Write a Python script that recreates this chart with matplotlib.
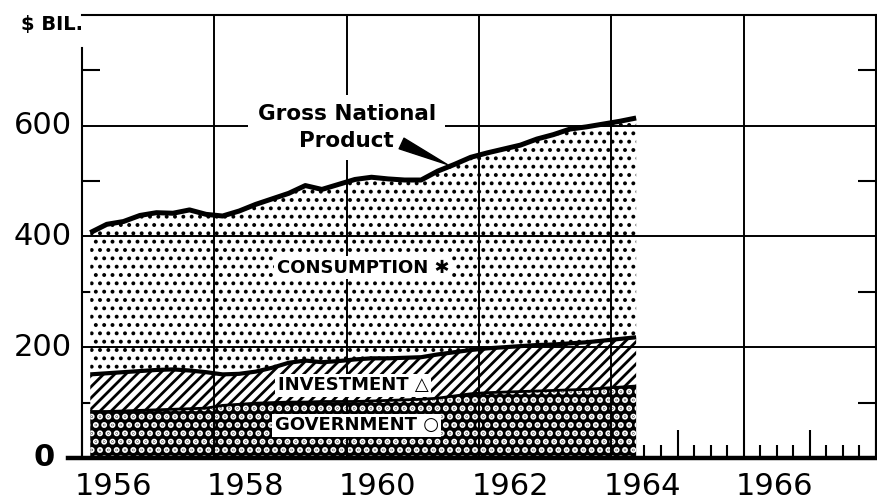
import matplotlib
matplotlib.use("Agg")
import matplotlib.pyplot as plt
import numpy as np

# quarterly values, $ billions, 1956 Q1 .. 1964 Q2
quarters = np.arange(1956.125, 1964.5, 0.25)
gnp = [407, 422, 427, 438, 443, 442, 448, 440, 437, 446, 458, 468,
       478, 492, 485, 494, 503, 507, 504, 502, 502, 518, 530, 543,
       551, 558, 565, 576, 584, 594, 598, 603, 608, 614]
gov_plus_inv = [151, 153, 155, 157, 159, 160, 158, 155, 151, 152, 156, 163,
                172, 176, 173, 175, 178, 180, 180, 181, 182, 187, 191, 195,
                198, 200, 202, 204, 205, 207, 209, 212, 215, 218]
government = [84, 84, 85, 86, 87, 88, 89, 90, 95, 97, 99, 100,
              101, 101, 102, 102, 102, 103, 104, 105, 106, 108, 112, 116,
              118, 119, 120, 121, 122, 123, 124, 126, 128, 130]

year_labels = [1956, 1958, 1960, 1962, 1964, 1966]
y_labels = [0, 200, 400, 600]
y_grid = [200, 400, 600]
x_grid = [1958, 1960, 1962, 1964, 1966]
y_minor = [100, 300, 500, 700]

plt.rcParams['font.family'] = ['DejaVu Sans']


def hatch_lw(coll, lw):
    # per-artist hatch width where matplotlib supports it
    if hasattr(coll, 'set_hatch_linewidth'):
        coll.set_hatch_linewidth(lw)


fig = plt.figure(figsize=(8.78, 5.03), dpi=100)
ax = fig.add_axes([82 / 878, 45 / 503, 794 / 878, 443 / 503])
ax.set_xlim(1956, 1968)
ax.set_ylim(0, 800)
ax.set_axisbelow(True)

# shaded bands
with plt.rc_context({'hatch.linewidth': 3.0}):
    gov = ax.fill_between(quarters, 0, government, facecolor='black',
                          edgecolor='white', hatch='..', linewidth=0, zorder=1)
hatch_lw(gov, 3.0)
with plt.rc_context({'hatch.linewidth': 2.0}):
    inv = ax.fill_between(quarters, government, gov_plus_inv, facecolor='white',
                          edgecolor='black', hatch='///', linewidth=0, zorder=1)
hatch_lw(inv, 2.0)
with plt.rc_context({'hatch.linewidth': 1.6}):
    con = ax.fill_between(quarters, gov_plus_inv, gnp, facecolor='white',
                          edgecolor='black', hatch='..', linewidth=0, zorder=1)
hatch_lw(con, 1.6)

ax.plot(quarters, gnp, color='black', lw=3.6, zorder=3, solid_capstyle='butt')
ax.plot(quarters, gov_plus_inv, color='black', lw=3.0, zorder=3, solid_capstyle='butt')
ax.plot(quarters, government, color='black', lw=2.0, zorder=3, solid_capstyle='butt')

# grid drawn over the shading
for y in y_grid:
    ax.axhline(y, color='black', lw=1.4, zorder=2)
for x in x_grid:
    ax.axvline(x, color='black', lw=1.4, zorder=2)
ax.axhline(0, xmin=-14 / 794, xmax=1, color='black', lw=3.2, zorder=5, clip_on=False)

# spines and ticks
for s in ['top', 'right']:
    ax.spines[s].set_linewidth(1.5)
ax.spines['left'].set_linewidth(1.5)
ax.spines['left'].set_bounds(0, 740)
ax.spines['bottom'].set_visible(False)

ax.set_xticks(np.arange(1956, 1969, 1))
ax.set_xticks(np.arange(1956, 1968.01, 0.25), minor=True)
ax.set_yticks([])
ax.set_yticks(y_minor, minor=True)
ax.tick_params(axis='x', which='major', direction='in', length=20, width=1.5, labelbottom=False)
ax.tick_params(axis='x', which='minor', direction='in', length=9.5, width=1.5)
ax.tick_params(axis='y', which='minor', direction='in', length=13, width=1.5,
               left=True, right=True)

for yr in year_labels:
    ax.text(yr + 0.47, -52, str(yr), fontsize=22, ha='center', va='center', clip_on=False)
for v in y_labels:
    if v == 0:
        ax.text(-0.034, v, '0', transform=ax.get_yaxis_transform(), fontsize=22,
                fontweight='bold', ha='right', va='center')
    else:
        ax.text(-0.013, v, str(v), transform=ax.get_yaxis_transform(), fontsize=22,
                ha='right', va='center')

ax.text(0.001, 782, '$ BIL.', transform=ax.get_yaxis_transform(), fontsize=14,
        fontweight='bold', ha='right', va='center')

box = dict(facecolor='white', edgecolor='none', pad=2)
ax.text(1960.25, 344, 'CONSUMPTION \u2731', fontsize=13, fontweight='bold',
        ha='center', va='center', bbox=box, zorder=6)
ax.text(1960.1, 131, 'INVESTMENT \u25b3', fontsize=13, fontweight='bold',
        ha='center', va='center', bbox=box, zorder=6)
ax.text(1960.15, 59, 'GOVERNMENT \u25cb', fontsize=13, fontweight='bold',
        ha='center', va='center', bbox=box, zorder=6)

ax.text(1960.0, 597, 'Gross National\nProduct', fontsize=15.5, fontweight='bold',
        ha='center', va='center', linespacing=1.4, zorder=6,
        bbox=dict(facecolor='white', edgecolor='none', pad=7))
ax.annotate('', xy=(1961.52, 530), xytext=(1960.83, 568),
            arrowprops=dict(arrowstyle='wedge,tail_width=0.7', facecolor='black',
                            edgecolor='black', shrinkA=0, shrinkB=0,
                            mutation_scale=12), zorder=7)

fig.savefig('out.png', dpi=100)
